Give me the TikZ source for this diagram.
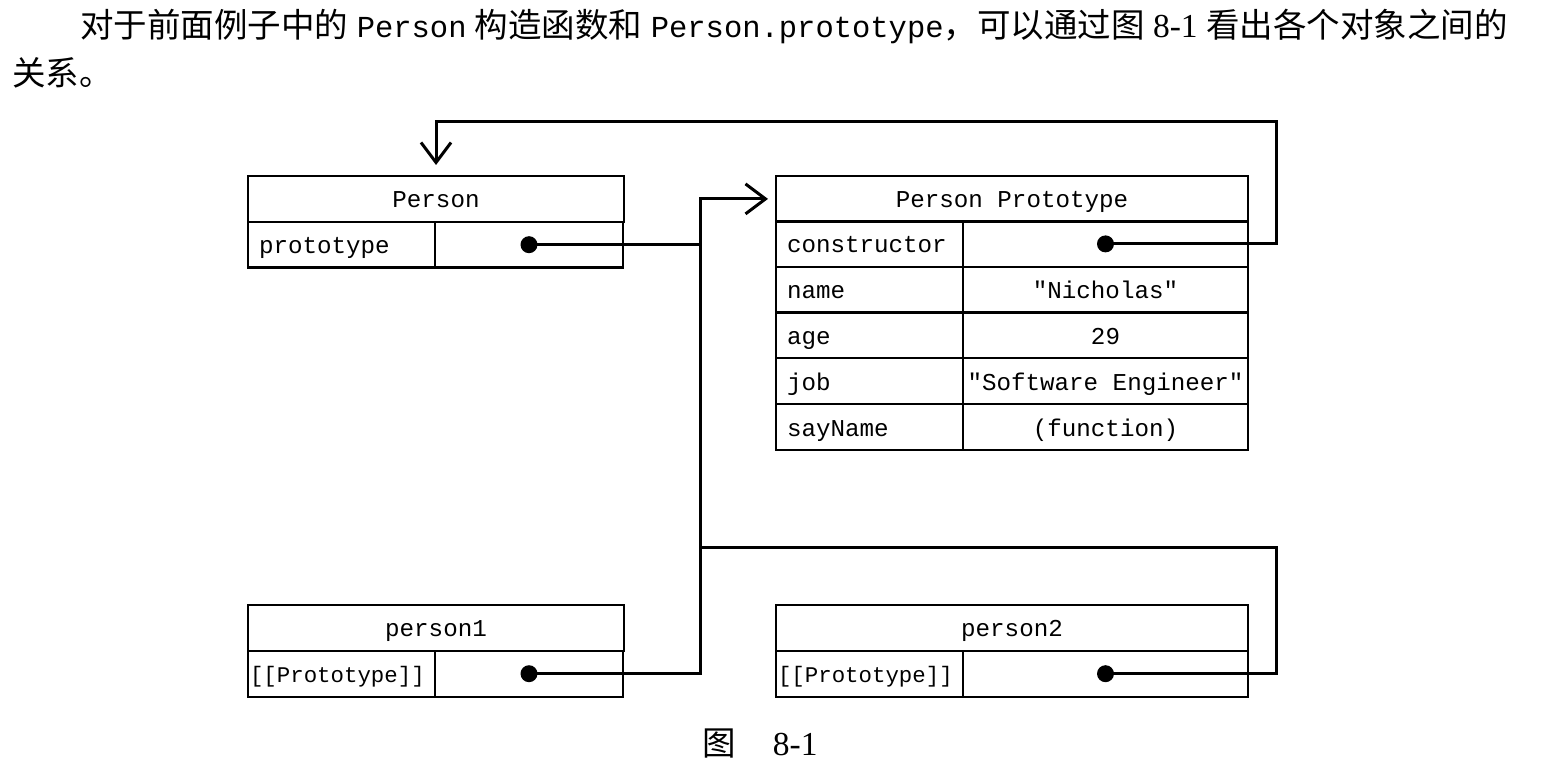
\documentclass[tikz,border=0pt]{standalone}
\usepackage{fontspec}
\setmainfont{Liberation Serif}
\setmonofont{Liberation Mono}
\newfontfamily\cjk{Noto Sans CJK SC}
\usetikzlibrary{arrows.meta}

\newcommand{\code}[1]{{\fontsize{15.25pt}{18pt}\ttfamily #1}}

\begin{document}
\begin{tikzpicture}[x = 0.5pt, y = -0.5pt, > = {Straight Barb[length = 10pt, width = 15pt]},
	cell/.style = {draw, line width = 1.1pt, outer sep = 0pt, inner sep = 0pt, minimum height = 22.9pt,
		text height = 10pt, text depth = 1pt, font = \fontsize{12.1pt}{14pt}\ttfamily},
	keycell/.style = {cell, text width = 82.5pt, inner xsep = 5.5pt, align = left},
	slotcell/.style = {cell, text width = 91.5pt, inner xsep = 1pt, align = left, font = \fontsize{11.2pt}{14pt}\ttfamily},
	link/.style = {line width = 1.5pt},
	prose/.style = {inner sep = 0pt, font = \fontsize{16.75pt}{20pt}\selectfont}]

	% Page size
	
	\useasboundingbox (0, 0) rectangle (1560, 775);
	
	% Text above and caption
	
	\node [prose, anchor = base west] (line1) at (80, 38) {{\cjk 对于前面例子中的} \code{Person} {\cjk 构造函数和} \code{Person.prototype}{\cjk ，可以通过图} 8-1 {\cjk 看出各个对象之间的}};
	\node [prose, anchor = base west] (line2) at (12, 86) {{\cjk 关系。}};
	\node [prose, anchor = base] (caption) at (760, 755) {{\cjk 图}\hspace{1.1em}8-1};
	
	% Person
	
	\node [cell, minimum width = 188pt, anchor = north west] (person) at (248, 176) {Person};
	\node [keycell, anchor = north west] (protokey) at (person.south west) {prototype};
	\node [cell, minimum width = 94pt, anchor = north west] (protoval) at (protokey.north east) {};
	
	% Person Prototype
	
	\node [cell, minimum width = 236pt, anchor = north west] (proto) at (776, 176) {Person Prototype};
	\foreach \k/\v [count = \i] in {constructor/{}, name/{"Nicholas"}, age/{29}, job/{"Software Engineer"}, sayName/{(function)}}
	{
		\node [keycell, anchor = north west] (key\i) at (776, {221 + (\i - 1) * 45.8}) {\k};
		\node [cell, minimum width = 142.5pt, anchor = north west] (val\i) at (key\i.north east) {\v};
	}
	
	% Instances
	
	\node [cell, minimum width = 188pt, anchor = north west] (p1) at (248, 605) {person1};
	\node [slotcell, anchor = north west] (p1key) at (p1.south west) {[[Prototype]]};
	\node [cell, minimum width = 94pt, anchor = north west] (p1val) at (p1key.north east) {};
	
	\node [cell, minimum width = 236pt, anchor = north west] (p2) at (776, 605) {person2};
	\node [slotcell, anchor = north west] (p2key) at (p2.south west) {[[Prototype]]};
	\node [cell, minimum width = 142.5pt, anchor = north west] (p2val) at (p2key.north east) {};
	
	% Pointer dots
	
	\foreach \n in {protoval, val1, p1val, p2val}
		\fill (\n.center) circle (4.25pt);
	
	% Links
	
	\coordinate (bus) at (700, 198);
	\coordinate (ret) at (1276, 122);
	\coordinate (ret2) at (1276, 547);
	
	\draw [link] (protoval.center) -- (protoval.center -| bus);
	\draw [link, ->] (p1val.center) -| (proto.west -| bus) -- ([xshift = -4pt] proto.west);
	\draw [link, ->] (val1.center) -| (ret) -| ([yshift = 5.5pt] person.north);
	\draw [link] (p2val.center) -| (ret2) -- (ret2 -| bus);

\end{tikzpicture}
\end{document}
